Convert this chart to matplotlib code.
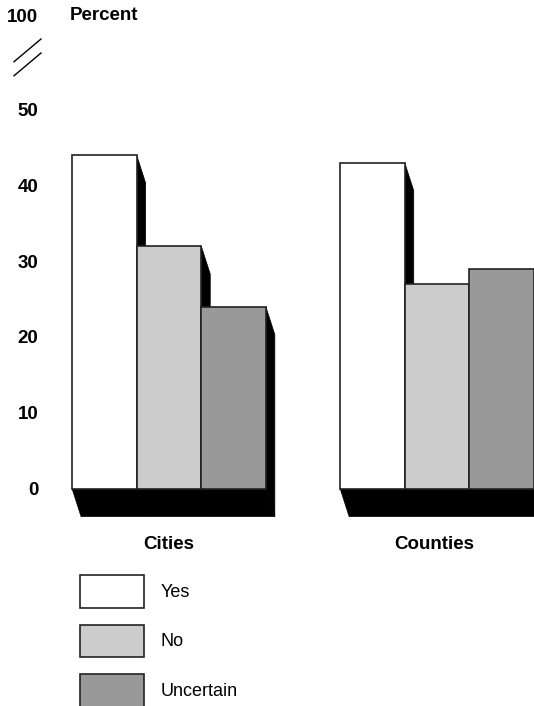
import matplotlib
matplotlib.use('Agg')
import matplotlib.pyplot as plt
from matplotlib.patches import Polygon, Patch

plt.rcParams['font.family'] = ['Liberation Sans', 'DejaVu Sans']

# data
groups = ["Cities", "Counties"]
answers = ["Yes", "No", "Uncertain"]
cities = [44, 32, 24]
counties = [43, 27, 29]
colors = ["#ffffff", "#cccccc", "#999999"]
yticks = [0, 10, 20, 30, 40, 50]

group_left = [0.0, 4.15]      # left edge of each group, in bar widths
dx, dy = 0.14, 3.7            # fake 3D depth (bar widths, percent)

fig = plt.figure(figsize=(5.34, 7.06), dpi=100)
# axes spans from x=44px to the right edge, full height
ax = fig.add_axes([44 / 534, 0, 1 - 44 / 534, 1])
px_per_unit, px_per_pct = 64.6, 7.58
ax.set_xlim((44 - 72) / px_per_unit, (534 - 72) / px_per_unit)
ax.set_ylim(-(706 - 488.5) / px_per_pct, 488.5 / px_per_pct)
for s in ax.spines.values():
    s.set_visible(False)
ax.set_xticks([])

top_pos = (488.5 - 16) / px_per_pct  # where "100" sits above the break
ax.set_yticks(yticks + [top_pos])
ax.set_yticklabels([str(t) for t in yticks] + ["100"], fontsize=13.5, fontweight='bold')
ax.tick_params(axis='y', length=0, pad=4)

ax.text(-0.03, top_pos, "Percent", fontsize=13.5, fontweight='bold', va='center', ha='left')

# axis break marks
for off in (0, 1.85):
    ax.plot([-0.898, -0.48], [56.3 - off, 59.3 - off], color='black', lw=1, clip_on=False)

for g, vals in enumerate([cities, counties]):
    left = group_left[g]
    right = left + len(vals)
    base = Polygon([(left, 0), (right, 0), (right + dx, -dy), (left + dx, -dy)],
                   closed=True, facecolor='black', edgecolor='black', lw=0.5)
    ax.add_patch(base)
    for i, v in enumerate(vals):
        x0 = left + i
        side = Polygon([(x0 + 1, v), (x0 + 1 + dx, v - dy), (x0 + 1 + dx, -dy), (x0 + 1, 0)],
                       closed=True, facecolor='black', edgecolor='black', lw=0.5)
        ax.add_patch(side)
        ax.bar(x0, v, width=1, align='edge', color=colors[i], edgecolor='#222222', linewidth=1.2, zorder=2)
    ax.text(left + len(vals) / 2 - 0.05 * g, -7.45, groups[g], ha='center', va='center',
            fontsize=13.5, fontweight='bold')

handles = [Patch(facecolor=c, edgecolor='#222222', linewidth=1.2) for c in colors]
fig.legend(handles, answers, loc='upper left', bbox_to_anchor=(80 / 534, 1 - 575 / 706),
           frameon=False, fontsize=13, handlelength=3.55, handleheight=2.4,
           labelspacing=0.94, handletextpad=0.9, borderpad=0, borderaxespad=0)

fig.savefig("out.png", dpi=100)
plt.close(fig)
